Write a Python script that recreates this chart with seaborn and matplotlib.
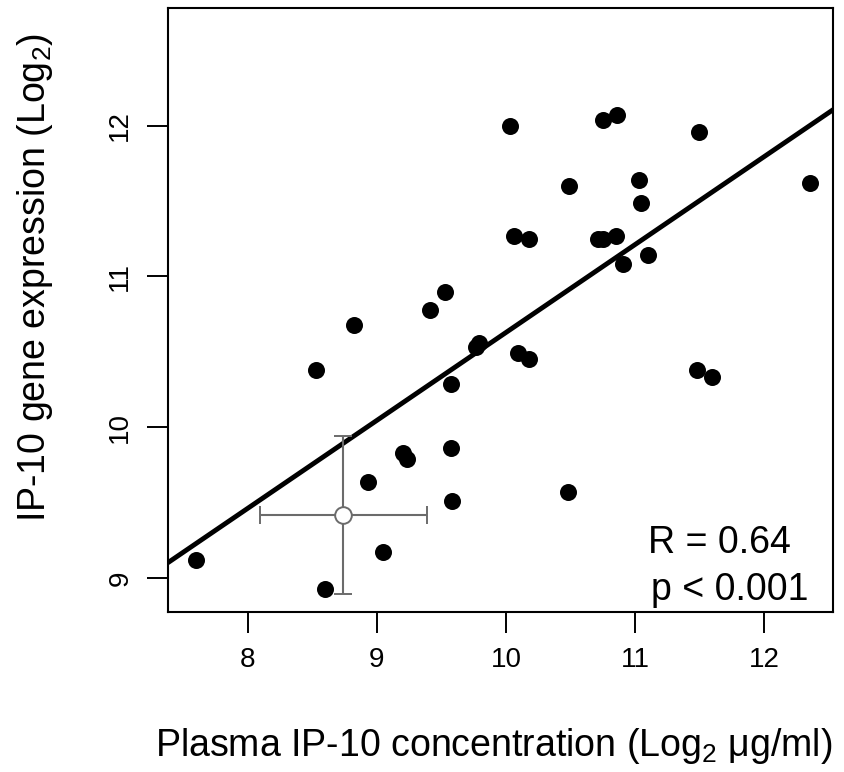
import numpy as np
import pandas as pd
import matplotlib
matplotlib.use("Agg")
import matplotlib.pyplot as plt
import seaborn as sns

plasma = [7.60, 8.60, 9.05, 8.93, 9.20, 9.23, 9.57, 9.58, 9.57, 8.53, 8.82, 9.41,
          9.53, 9.77, 9.79, 10.09, 10.18, 10.48, 10.03, 10.06, 10.18, 10.49, 10.71,
          10.75, 10.85, 10.75, 10.86, 11.50, 11.03, 11.05, 10.91, 11.10, 12.36,
          11.48, 11.60]
gene = [9.12, 8.93, 9.17, 9.64, 9.83, 9.79, 9.86, 9.51, 10.29, 10.38, 10.68, 10.78,
        10.90, 10.53, 10.56, 10.49, 10.45, 9.57, 12.00, 11.27, 11.25, 11.60, 11.25,
        11.25, 11.27, 12.04, 12.07, 11.96, 11.64, 11.49, 11.08, 11.14, 11.62,
        10.38, 10.33]
mean_x = [8.74]
mean_y = [9.42]
sd_x = [0.645]
sd_y = [0.525]
x_ticks = [8, 9, 10, 11, 12]
y_ticks = [9, 10, 11, 12]
r_text = "R = 0.64"
p_text = "p < 0.001"

df = pd.DataFrame({"plasma": plasma, "gene": gene})

sns.set_style("white")
plt.rcParams["font.family"] = ["Liberation Sans", "DejaVu Sans"]
plt.rcParams["mathtext.fontset"] = "custom"
plt.rcParams["mathtext.rm"] = "Liberation Sans"
plt.rcParams["text.color"] = "black"
plt.rcParams["axes.labelcolor"] = "black"
plt.rcParams["xtick.color"] = "black"
plt.rcParams["ytick.color"] = "black"

fig = plt.figure(figsize=(8.44, 7.72), dpi=100)
ax = fig.add_axes([168/844, 1-612/772, (833-168)/844, (612-8)/772])
ax.set_xlim(7.38, 12.535)
ax.set_ylim(8.775, 12.78)

sns.scatterplot(data=df, x="plasma", y="gene", ax=ax, color="black", s=150,
                edgecolor="black", linewidth=0, zorder=3)
sns.regplot(data=df, x="plasma", y="gene", ax=ax, scatter=False, ci=None,
            truncate=False, line_kws=dict(color="black", lw=3.5))
ax.errorbar(mean_x, mean_y, xerr=sd_x, yerr=sd_y, fmt="o", mfc="white",
            mec="#6b6b6b", ecolor="#6b6b6b", ms=12, mew=1.4, elinewidth=1.5,
            capsize=6.5, capthick=1.5, zorder=4)
ax.set_xlim(7.38, 12.535)
ax.set_ylim(8.775, 12.78)

ax.text(0.722, 0.0977, r_text, transform=ax.transAxes, ha="left", va="baseline",
        fontsize=27, color="black")
ax.text(0.726, 0.0199, p_text, transform=ax.transAxes, ha="left", va="baseline",
        fontsize=27, color="black")

ax.set_xticks(x_ticks)
ax.set_yticks(y_ticks)
ax.set_xticklabels([str(t) for t in x_ticks], fontsize=20)
ax.set_yticklabels([str(t) for t in y_ticks], fontsize=20, rotation=90, va="center")
ax.tick_params(axis="both", direction="out", length=15, width=1.4, color="black",
               pad=10, bottom=True, left=True)
for sp in ax.spines.values():
    sp.set_visible(True)
    sp.set_color("black")
    sp.set_linewidth(1.5)

ax.set_xlabel(r"Plasma IP-10 concentration (Log$\mathregular{_2}$ μg/ml)", fontsize=27)
ax.xaxis.label.set_va("baseline")
ax.xaxis.set_label_coords(0.49, -0.238)
ax.set_ylabel(r"IP-10 gene expression (Log$\mathregular{_2}$)", fontsize=27)
ax.yaxis.label.set_va("baseline")
ax.yaxis.set_label_coords(-0.185, 0.553)

fig.savefig("out.png", dpi=100, facecolor="white")
